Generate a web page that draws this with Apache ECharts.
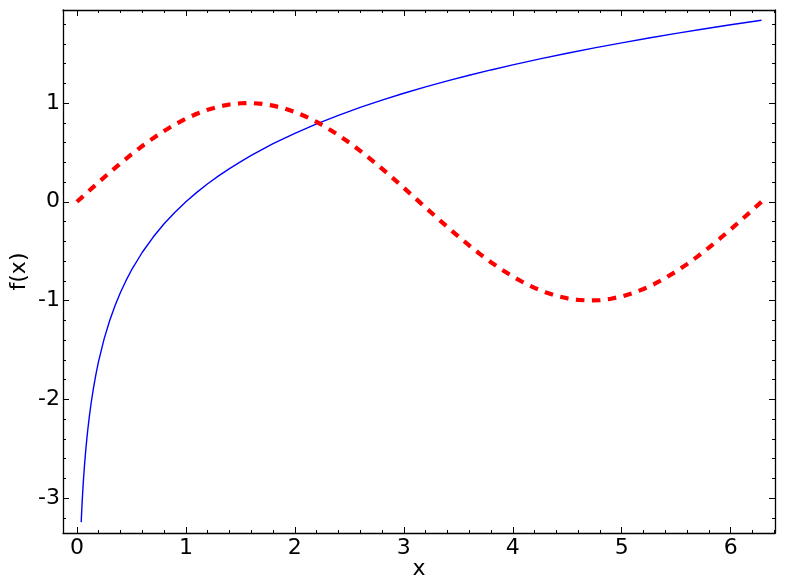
<!DOCTYPE html>
<html>
<head>
<meta charset="utf-8">
<script src="https://cdn.jsdelivr.net/npm/echarts@6/dist/echarts.min.js"></script>
<style>
html,body{margin:0;padding:0;background:#fff;}
#chart{width:785px;height:585px;}
</style>
</head>
<body>
<div id="chart"></div>
<script>
// x samples and values of the red dashed curve
const sinX = [0,0.1,0.2,0.3,0.4,0.5,0.6,0.7,0.8,0.9,1.0,1.1,1.2,1.3,1.4,1.5,1.6,1.7,1.8,1.9,2.0,2.1,2.2,2.3,2.4,2.5,2.6,2.7,2.8,2.9,3.0,3.1,3.2,3.3,3.4,3.5,3.6,3.7,3.8,3.9,4.0,4.1,4.2,4.3,4.4,4.5,4.6,4.7,4.8,4.9,5.0,5.1,5.2,5.3,5.4,5.5,5.6,5.7,5.8,5.9,6.0,6.1,6.2,6.283];
const sinY = [0,0.0998,0.1987,0.2955,0.3894,0.4794,0.5646,0.6442,0.7174,0.7833,0.8415,0.8912,0.9320,0.9636,0.9854,0.9975,0.9996,0.9917,0.9738,0.9463,0.9093,0.8632,0.8085,0.7457,0.6755,0.5985,0.5155,0.4274,0.3350,0.2392,0.1411,0.0416,-0.0584,-0.1577,-0.2555,-0.3508,-0.4425,-0.5298,-0.6119,-0.6878,-0.7568,-0.8183,-0.8716,-0.9162,-0.9516,-0.9775,-0.9937,-0.9999,-0.9962,-0.9825,-0.9589,-0.9258,-0.8835,-0.8323,-0.7728,-0.7055,-0.6313,-0.5507,-0.4646,-0.3739,-0.2794,-0.1822,-0.0831,0];
// x samples and values of the blue curve
const logX = [0.039,0.045,0.05,0.055,0.06,0.07,0.08,0.09,0.1,0.115,0.13,0.15,0.175,0.2,0.25,0.3,0.35,0.4,0.45,0.5,0.6,0.7,0.8,0.9,1.0,1.1,1.2,1.3,1.4,1.5,1.6,1.8,2.0,2.2,2.4,2.6,2.8,3.0,3.2,3.4,3.6,3.8,4.0,4.25,4.5,4.75,5.0,5.25,5.5,5.75,6.0,6.283];
const logY = [-3.244,-3.101,-2.996,-2.900,-2.813,-2.659,-2.526,-2.408,-2.303,-2.163,-2.040,-1.897,-1.743,-1.609,-1.386,-1.204,-1.050,-0.916,-0.799,-0.693,-0.511,-0.357,-0.223,-0.105,0,0.095,0.182,0.262,0.336,0.405,0.470,0.588,0.693,0.788,0.875,0.956,1.030,1.099,1.163,1.224,1.281,1.335,1.386,1.447,1.504,1.558,1.609,1.658,1.705,1.749,1.792,1.838];
// tick values
const xMajor = [0,1,2,3,4,5,6];
const xMinor = [0.2,0.4,0.6,0.8,1.2,1.4,1.6,1.8,2.2,2.4,2.6,2.8,3.2,3.4,3.6,3.8,4.2,4.4,4.6,4.8,5.2,5.4,5.6,5.8,6.2,6.4];
const yMajor = [-3,-2,-1,0,1];
const yMinor = [-3.2,-2.8,-2.6,-2.4,-2.2,-1.8,-1.6,-1.4,-1.2,-0.8,-0.6,-0.4,-0.2,0.2,0.4,0.6,0.8,1.2,1.4,1.6,1.8];

const X_MIN = -0.128, X_MAX = 6.407, Y_MIN = -3.354, Y_MAX = 1.942;
const FONT = 'DejaVu Sans';
const FS = 22;

function xAx(pos, ticks, len, showLine, labels, name) {
  return {
    type: 'value', position: pos, min: X_MIN, max: X_MAX, gridIndex: 0,
    axisLine: {show: showLine, onZero: false, lineStyle: {color: '#000', width: 1.3}},
    axisTick: {show: true, inside: true, length: len, customValues: ticks, lineStyle: {color: '#000', width: 1}},
    axisLabel: labels ? {show: true, customValues: ticks, color: '#000', fontSize: FS, fontFamily: FONT, margin: 4} : {show: false},
    splitLine: {show: false},
    name: name || '', nameLocation: 'middle', nameGap: 25, nameMoveOverlap: false,
    nameTextStyle: {color: '#000', fontSize: FS, fontFamily: FONT}
  };
}
function yAx(pos, ticks, len, showLine, labels, name) {
  return {
    type: 'value', position: pos, min: Y_MIN, max: Y_MAX, gridIndex: 0,
    axisLine: {show: showLine, onZero: false, lineStyle: {color: '#000', width: 1.3}},
    axisTick: {show: true, inside: true, length: len, customValues: ticks, lineStyle: {color: '#000', width: 1}},
    axisLabel: labels ? {show: true, customValues: ticks, color: '#000', fontSize: FS, fontFamily: FONT, margin: 3} : {show: false},
    splitLine: {show: false},
    name: name || '', nameLocation: 'middle', nameGap: 33, nameMoveOverlap: false,
    nameTextStyle: {color: '#000', fontSize: FS, fontFamily: FONT}
  };
}

const chart = echarts.init(document.getElementById('chart'), null, {renderer: 'canvas'});
chart.setOption({
  animation: false,
  backgroundColor: '#fff',
  grid: {left: 63, top: 10, width: 712, height: 523, containLabel: false, outerBoundsMode: 'none'},
  xAxis: [
    xAx('bottom', xMajor, 6, true, true, 'x'),
    xAx('bottom', xMinor, 3, false, false),
    xAx('top', xMajor, 6, true, false),
    xAx('top', xMinor, 3, false, false)
  ],
  yAxis: [
    yAx('left', yMajor, 6, true, true, 'f(x)'),
    yAx('left', yMinor, 3, false, false),
    yAx('right', yMajor, 6, true, false),
    yAx('right', yMinor, 3, false, false)
  ],
  series: [
    {
      type: 'line', xAxisIndex: 0, yAxisIndex: 0, showSymbol: false, symbol: 'none',
      data: logX.map((x, i) => [x, logY[i]]),
      smooth: false, clip: true,
      lineStyle: {color: '#0000ff', width: 1.4}
    },
    {
      type: 'line', xAxisIndex: 0, yAxisIndex: 0, showSymbol: false, symbol: 'none',
      data: sinX.map((x, i) => [x, sinY[i]]),
      smooth: false, clip: true,
      lineStyle: {color: '#ff0000', width: 4.2, type: [8.5, 7.5]}
    }
  ]
});
</script>
</body>
</html>
